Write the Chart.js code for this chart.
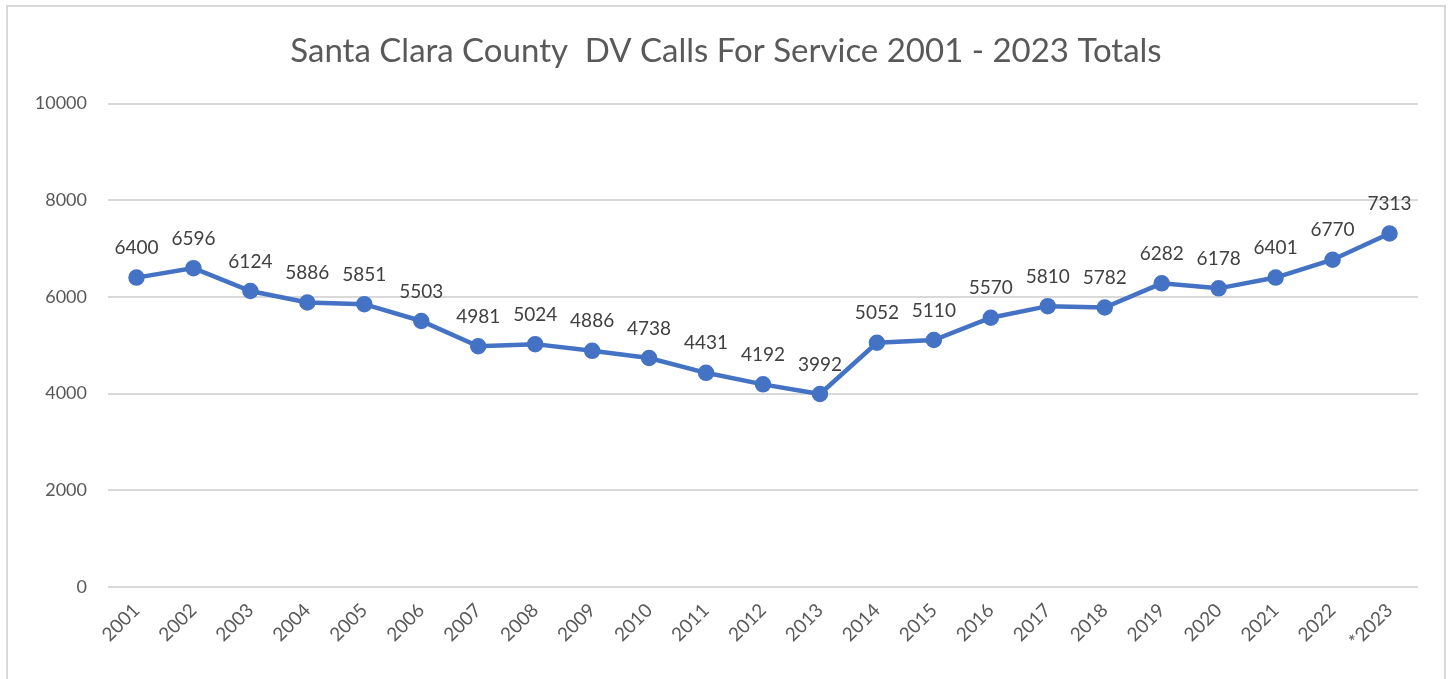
<!DOCTYPE html>
<html>
<head>
<meta charset="utf-8">
<script src="https://cdn.jsdelivr.net/npm/chart.js@4.4.1/dist/chart.umd.min.js"></script>
<style>
  body { margin: 0; background: #fff; overflow: hidden; }
  #frame {
    position: absolute; left: 6px; top: 5px;
    width: 1436px; height: 690px;
    border: 2px solid #d9d9d9;
  }
  #frame canvas { display: block; }
</style>
</head>
<body>
<div id="frame"><canvas id="dvChart" width="1436" height="672"></canvas></div>
<script>
// DV calls for service, Santa Clara County
const years = ['2001', '2002', '2003', '2004', '2005', '2006', '2007', '2008', '2009', '2010',
  '2011', '2012', '2013', '2014', '2015', '2016', '2017', '2018', '2019', '2020', '2021', '2022', '*2023'];
const calls = [6400, 6596, 6124, 5886, 5851, 5503, 4981, 5024, 4886, 4738,
  4431, 4192, 3992, 5052, 5110, 5570, 5810, 5782, 6282, 6178, 6401, 6770, 7313];
const yTicks = [0, 2000, 4000, 6000, 8000, 10000];

const FONT = 'Lato, "Open Sans", sans-serif';

// simple value labels above each point
const pointLabels = {
    id: 'pointLabels',
    afterDatasetsDraw(chart) {
        const c = chart.ctx;
        const meta = chart.getDatasetMeta(0);
        c.save();
        c.font = '19px ' + FONT;
        c.fillStyle = '#404040';
        c.textAlign = 'center';
        c.textBaseline = 'bottom';
        meta.data.forEach((pt, i) => {
            c.fillText(String(calls[i]), pt.x, pt.y - 20);
        });
        c.restore();
    }
};

new Chart(document.getElementById('dvChart'), {
    type: 'line',
    data: {
        labels: years,
        datasets: [{
            data: calls,
            borderColor: '#4472C4',
            backgroundColor: '#4472C4',
            borderWidth: 4.5,
            pointRadius: 6,
            pointHoverRadius: 6,
            tension: 0
        }]
    },
    options: {
        responsive: false,
        animation: false,
        layout: { padding: { left: 26, right: 26, top: 0, bottom: 32 } },
        plugins: {
            legend: { display: false },
            tooltip: { enabled: false },
            title: {
                display: true,
                text: 'Santa Clara County  DV Calls For Service 2001 - 2023 Totals',
                color: '#595959',
                font: { family: FONT, size: 33, weight: 'normal' },
                padding: { top: 25, bottom: 32 }
            }
        },
        scales: {
            x: {
                offset: true,
                grid: { display: false },
                border: { display: false },
                ticks: {
                    color: '#595959',
                    font: { family: FONT, size: 19 },
                    maxRotation: 45,
                    minRotation: 45,
                    padding: 4
                },
                afterFit(s) { s.height = 60; }
            },
            y: {
                min: 0,
                max: 10000,
                afterBuildTicks(s) { s.ticks = yTicks.map(v => ({ value: v })); },
                grid: { color: '#d9d9d9', lineWidth: 2, drawTicks: false },
                border: { display: false },
                ticks: {
                    color: '#595959',
                    font: { family: FONT, size: 18 },
                    padding: 21,
                    callback: v => String(v)
                },
                afterFit(s) { s.width = 74; }
            }
        }
    },
    plugins: [pointLabels]
});
</script>
</body>
</html>
